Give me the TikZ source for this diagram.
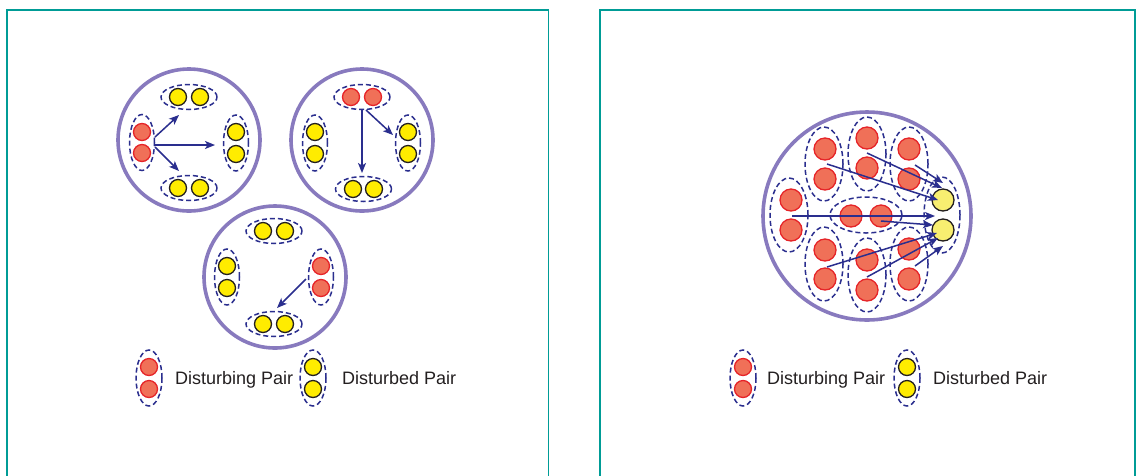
\documentclass[tikz,border=0pt]{standalone}
\usepackage{fontspec}
\setmainfont{Liberation Sans}
\usetikzlibrary{shapes.geometric,arrows.meta}
\definecolor{ringcol}{RGB}{136,122,190}
\definecolor{navy}{RGB}{42,46,142}
\definecolor{redfill}{RGB}{240,112,88}
\definecolor{redline}{RGB}{230,36,40}
\definecolor{yelfill}{RGB}{255,236,0}
\definecolor{paleyel}{RGB}{248,238,112}
\definecolor{panelcol}{RGB}{0,156,150}
\definecolor{txtcol}{RGB}{35,31,32}
\tikzset{
  panel/.style={draw=panelcol, line width=1.3pt},
  ring/.style={circle, draw=ringcol, line width=3.6pt, inner sep=0pt},
  reddot/.style={circle, fill=redfill, draw=redline, line width=1.3pt, inner sep=0pt, minimum size=17pt},
  yeldot/.style={circle, fill=yelfill, draw=txtcol, line width=1.3pt, inner sep=0pt, minimum size=17pt},
  bigred/.style={reddot, minimum size=22pt},
  bigyel/.style={yeldot, fill=paleyel, minimum size=22pt},
  vring/.style={ellipse, draw=navy, dash pattern=on 5pt off 3pt, line width=1.5pt, inner sep=0pt, minimum width=25pt, minimum height=56pt},
  hring/.style={ellipse, draw=navy, dash pattern=on 5pt off 3pt, line width=1.5pt, inner sep=0pt, minimum width=56pt, minimum height=25pt},
  bigvring/.style={vring, minimum width=38pt, minimum height=74pt},
  bighring/.style={hring, minimum width=72pt, minimum height=36pt},
  arr/.style={draw=navy, line width=1.5pt, -{Stealth[length=10pt,width=8pt,inset=2.5pt]}},
  legtext/.style={anchor=base west, inner sep=0pt, text=txtcol, font=\fontsize{18}{21}\selectfont},
}
\begin{document}
\begin{tikzpicture}[x=1pt,y=-1pt]
\useasboundingbox (0,0) rectangle (1137,475);
\fill[white] (0,0) rectangle (1137,475);

% panel frames, open at the bottom
\draw[panel] (7,476) -- (7,10) -- (548.5,10) -- (548.5,476);
\draw[panel] (600,476) -- (600,10) -- (1135,10) -- (1135,476);

% ---------- left panel: three separate groups ----------
\node[ring, minimum size=142pt] (c1) at (189,140) {};
\node[ring, minimum size=142pt] (c2) at (362,140) {};
\node[ring, minimum size=142pt] (c3) at (275,277) {};

% group 1
\node[vring] (g1r) at (142,142.5) {};
\node[hring] (g1t) at (189,97) {};
\node[vring] (g1e) at (236,143) {};
\node[hring] (g1b) at (189,188) {};
\node[reddot] (g1r1) at (142,132) {};
\node[reddot] (g1r2) at (142,153) {};
\node[yeldot] (g1t1) at (178,97) {};
\node[yeldot] (g1t2) at (200,97) {};
\node[yeldot] (g1e1) at (236,132) {};
\node[yeldot] (g1e2) at (236,154) {};
\node[yeldot] (g1b1) at (178,188) {};
\node[yeldot] (g1b2) at (200,188) {};
\coordinate (g1s1) at (155,137);
\coordinate (g1s2) at (155,145);
\coordinate (g1s3) at (155,147);
\coordinate (g1x1) at (179,115);
\coordinate (g1x2) at (215,145);
\coordinate (g1x3) at (179,171);
\draw[arr] (g1s1) -- (g1x1);
\draw[arr] (g1s2) -- (g1x2);
\draw[arr] (g1s3) -- (g1x3);

% group 2
\node[hring] (g2r) at (362,97) {};
\node[vring] (g2w) at (315,143) {};
\node[vring] (g2e) at (408,143) {};
\node[hring] (g2b) at (363.5,189) {};
\node[reddot] (g2r1) at (351,97) {};
\node[reddot] (g2r2) at (373,97) {};
\node[yeldot] (g2w1) at (315,132) {};
\node[yeldot] (g2w2) at (315,154) {};
\node[yeldot] (g2e1) at (408,132) {};
\node[yeldot] (g2e2) at (408,154) {};
\node[yeldot] (g2b1) at (353,189) {};
\node[yeldot] (g2b2) at (374,189) {};
\coordinate (g2s1) at (362,110);
\coordinate (g2s2) at (366,110);
\coordinate (g2x1) at (362,173);
\coordinate (g2x2) at (393,135);
\draw[arr] (g2s1) -- (g2x1);
\draw[arr] (g2s2) -- (g2x2);

% group 3
\node[hring] (g3t) at (274,231) {};
\node[vring] (g3w) at (227,277) {};
\node[vring] (g3r) at (321,277) {};
\node[hring] (g3b) at (274,324) {};
\node[yeldot] (g3t1) at (263,231) {};
\node[yeldot] (g3t2) at (285,231) {};
\node[yeldot] (g3w1) at (227,266) {};
\node[yeldot] (g3w2) at (227,288) {};
\node[reddot] (g3r1) at (321,266) {};
\node[reddot] (g3r2) at (321,288) {};
\node[yeldot] (g3b1) at (263,324) {};
\node[yeldot] (g3b2) at (285,324) {};
\coordinate (g3s1) at (306,279);
\coordinate (g3x1) at (277,308);
\draw[arr] (g3s1) -- (g3x1);

% legend, left panel
\node[vring, minimum width=26pt] (la) at (149,378) {};
\node[reddot] (la1) at (149,367) {};
\node[reddot] (la2) at (149,389) {};
\node[legtext] (lat) at (175,384.5) {Disturbing Pair};
\node[vring, minimum width=26pt] (lb) at (313,378) {};
\node[yeldot] (lb1) at (313,367) {};
\node[yeldot] (lb2) at (313,389) {};
\node[legtext] (lbt) at (342,384.5) {Disturbed Pair};

% ---------- right panel: many pairs on one ----------
\node[ring, minimum size=208pt] (c4) at (867,216) {};

\node[bigvring] (p1) at (789,215) {};
\node[bigvring] (p2) at (824,164) {};
\node[bigvring] (p3) at (867,154) {};
\node[bigvring] (p4) at (909,164) {};
\node[bighring] (p5) at (866,215) {};
\node[bigvring] (p6) at (824,264) {};
\node[bigvring] (p7) at (867,275) {};
\node[bigvring] (p8) at (909,264) {};
\node[bigvring, minimum width=36pt, minimum height=76pt] (py) at (942,215) {};

\node[bigred] (p1a) at (791,200) {};
\node[bigred] (p1b) at (791,230) {};
\node[bigred] (p2a) at (825,149) {};
\node[bigred] (p2b) at (825,179) {};
\node[bigred] (p3a) at (867,138) {};
\node[bigred] (p3b) at (867,168) {};
\node[bigred] (p4a) at (909,149) {};
\node[bigred] (p4b) at (909,179) {};
\node[bigred] (p5a) at (851,216) {};
\node[bigred] (p5b) at (881,216) {};
\node[bigred] (p6a) at (825,250) {};
\node[bigred] (p6b) at (825,279) {};
\node[bigred] (p7a) at (867,260) {};
\node[bigred] (p7b) at (867,290) {};
\node[bigred] (p8a) at (909,249) {};
\node[bigred] (p8b) at (909,279) {};
\node[bigyel] (pya) at (943,200) {};
\node[bigyel] (pyb) at (943,230) {};

\coordinate (q2s) at (827,164);
\coordinate (q3s) at (867,153);
\coordinate (q4s) at (915,165);
\coordinate (q1s) at (792,216);
\coordinate (q5s) at (881,221);
\coordinate (q6s) at (827,267);
\coordinate (q7s) at (867,277);
\coordinate (q8s) at (915,266);
\coordinate (q2e) at (938,200);
\coordinate (q3e) at (942,188);
\coordinate (q4e) at (943,183);
\coordinate (q1e) at (935,216);
\coordinate (q5e) at (933,225);
\coordinate (q6e) at (937,233);
\coordinate (q7e) at (938,238);
\coordinate (q8e) at (943,246);
\draw[arr] (q2s) -- (q2e);
\draw[arr] (q3s) -- (q3e);
\draw[arr] (q4s) -- (q4e);
\draw[arr] (q1s) -- (q1e);
\draw[arr] (q5s) -- (q5e);
\draw[arr] (q6s) -- (q6e);
\draw[arr] (q7s) -- (q7e);
\draw[arr] (q8s) -- (q8e);

% legend, right panel
\node[vring, minimum width=26pt] (ra) at (743,378) {};
\node[reddot] (ra1) at (743,367) {};
\node[reddot] (ra2) at (743,389) {};
\node[legtext] (rat) at (767,384.5) {Disturbing Pair};
\node[vring, minimum width=26pt] (rb) at (907,378) {};
\node[yeldot] (rb1) at (907,367) {};
\node[yeldot] (rb2) at (907,389) {};
\node[legtext] (rbt) at (933,384.5) {Disturbed Pair};
\end{tikzpicture}
\end{document}
